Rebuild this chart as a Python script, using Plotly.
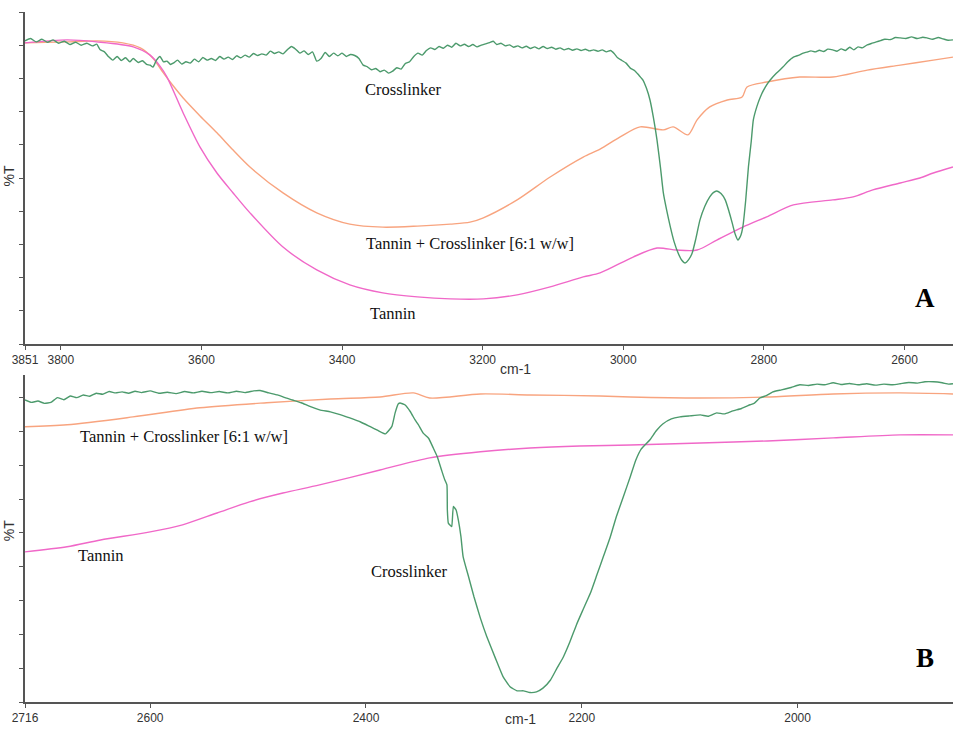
import plotly.graph_objects as go

# ---------------- Panel A: 3851-2531 cm-1 ----------------
a_cross_wn = [3851, 3843, 3835, 3827, 3819, 3811, 3803, 3795, 3787, 3779, 3771, 3763, 3755, 3749,
              3744, 3738, 3732, 3726, 3720, 3714, 3708, 3702, 3697, 3690, 3684, 3678, 3673, 3669,
              3664, 3659, 3654, 3649, 3644, 3640, 3634, 3628, 3622, 3616, 3610, 3604, 3598, 3592,
              3586, 3580, 3574, 3568, 3562, 3556, 3550, 3544, 3538, 3532, 3526, 3520, 3514, 3508,
              3502, 3496, 3490, 3484, 3478, 3472, 3466, 3460, 3454, 3448, 3442, 3436, 3430, 3424,
              3418, 3412, 3406, 3400, 3394, 3388, 3382, 3376, 3370, 3364, 3358, 3352, 3346, 3340,
              3334, 3328, 3322, 3316, 3310, 3304, 3298, 3292, 3286, 3280, 3274, 3268, 3262, 3256,
              3250, 3244, 3238, 3232, 3226, 3220, 3214, 3208, 3202, 3196, 3190, 3185, 3180, 3174,
              3168, 3162, 3156, 3150, 3144, 3138, 3132, 3126, 3120, 3114, 3108, 3102, 3096, 3090,
              3084, 3078, 3072, 3066, 3060, 3054, 3048, 3042, 3036, 3030, 3024, 3018, 3013, 3008,
              3002, 2996, 2990, 2984, 2978, 2972, 2967, 2962, 2957, 2952, 2947, 2943, 2938, 2933,
              2928, 2922, 2917, 2912, 2907, 2902, 2897, 2891, 2884, 2877, 2872, 2867, 2861, 2855,
              2850, 2845, 2841, 2837, 2833, 2830, 2826, 2822, 2818, 2815, 2810, 2805, 2798, 2791,
              2782, 2773, 2766, 2758, 2750, 2744, 2739, 2733, 2727, 2721, 2715, 2709, 2702, 2696,
              2690, 2684, 2678, 2672, 2666, 2660, 2653, 2646, 2640, 2634, 2628, 2620, 2613, 2606,
              2598, 2590, 2582, 2574, 2568, 2560, 2552, 2545, 2538, 2531]
a_cross_t = [91.3, 92.0, 91.0, 91.8, 90.9, 91.6, 90.6, 91.2, 90.2, 90.9, 90.0, 90.6, 89.8, 90.3,
             88.6, 88.0, 86.5, 85.5, 86.6, 85.4, 86.2, 85.0, 86.0, 84.8, 85.3, 84.2, 84.0, 83.4,
             85.5, 86.6, 85.0, 85.2, 84.2, 84.6, 85.5, 84.3, 85.0, 84.6, 85.8, 85.0, 86.3, 85.5,
             86.0, 85.4, 86.6, 85.8, 86.4, 85.7, 86.8, 86.2, 87.0, 86.4, 87.5, 86.9, 87.4, 87.0,
             88.2, 87.5, 88.0, 87.4, 88.6, 89.6, 88.8, 87.6, 88.3, 87.2, 88.0, 85.2, 86.0, 87.8,
             86.6, 87.6, 86.8, 87.6, 86.6, 87.2, 86.9, 86.0, 84.0, 83.5, 82.6, 83.0, 82.0, 82.5,
             81.6, 82.2, 83.2, 82.8, 84.5, 85.0, 86.6, 87.6, 87.0, 88.4, 89.2, 88.7, 89.6, 89.1,
             90.0, 89.4, 90.6, 89.8, 90.3, 89.6, 90.2, 89.5, 90.0, 90.4, 90.8, 91.2, 90.2, 90.6,
             89.8, 90.1, 89.4, 89.8, 89.2, 89.7, 89.0, 89.5, 88.9, 89.6, 89.0, 89.4, 88.8, 89.2,
             88.6, 89.0, 88.5, 88.9, 88.4, 88.8, 88.3, 88.6, 88.2, 88.6, 88.0, 88.4, 87.5, 86.2,
             85.4, 84.6, 83.1, 82.4, 81.0, 79.5, 77.0, 73.5, 68.0, 61.4, 53.0, 45.5, 40.0, 35.2,
             31.0, 27.4, 25.3, 24.4, 25.4, 27.4, 31.5, 37.3, 41.5, 44.3, 45.6, 46.1, 45.3, 43.4,
             40.2, 36.4, 33.2, 31.3, 32.6, 35.2, 43.0, 53.3, 61.0, 67.5, 71.5, 74.4, 77.4, 79.5,
             81.6, 83.4, 85.0, 86.4, 87.0, 87.6, 87.9, 88.3, 88.0, 88.5, 88.1, 88.8, 88.6, 88.2,
             88.9, 88.4, 89.4, 88.6, 89.5, 89.2, 90.1, 90.6, 91.0, 91.4, 91.8, 91.7, 92.3, 92.2,
             92.0, 92.5, 92.0, 92.4, 92.2, 91.8, 92.3, 91.9, 91.5, 91.6]

a_mix_wn = [3851, 3791, 3749, 3712, 3687, 3669, 3655, 3640, 3626, 3602, 3578, 3555, 3531, 3484,
            3436, 3389, 3342, 3293, 3246, 3218, 3199, 3151, 3104, 3057, 3033, 3005, 2976, 2943,
            2929, 2908, 2895, 2877, 2852, 2831, 2824, 2796, 2749, 2702, 2653, 2606, 2559, 2531]
a_mix_t = [90.7, 91.0, 91.3, 90.7, 89.2, 86.1, 81.9, 77.7, 74.1, 68.7, 63.6, 58.4, 53.3, 45.5,
           39.5, 36.1, 35.2, 35.5, 36.1, 36.7, 38.0, 43.4, 50.3, 56.3, 58.7, 62.3, 65.4, 64.5,
           65.4, 63.0, 67.5, 71.4, 73.5, 74.4, 77.4, 78.9, 80.4, 80.4, 82.5, 84.0, 85.5, 86.4]

a_tannin_wn = [3851, 3791, 3749, 3697, 3673, 3659, 3649, 3626, 3602, 3578, 3555, 3531, 3484, 3436,
               3389, 3342, 3293, 3246, 3199, 3151, 3104, 3057, 3033, 2986, 2952, 2924, 2895, 2867,
               2830, 2796, 2758, 2702, 2673, 2645, 2606, 2578, 2559, 2531]
a_tannin_t = [90.7, 91.6, 91.0, 89.5, 87.0, 83.7, 80.4, 69.6, 59.3, 51.5, 45.5, 39.5, 29.2, 22.3,
              17.8, 15.4, 14.2, 13.6, 13.6, 14.8, 17.2, 20.2, 21.4, 26.2, 28.9, 28.3, 28.3, 31.3,
              35.2, 38.3, 41.9, 43.4, 44.3, 46.4, 48.5, 50.0, 51.5, 53.3]

# ---------------- Panel B: 2716-1856 cm-1 ----------------
b_cross_wn = [2716, 2710, 2704, 2698, 2692, 2686, 2680, 2674, 2668, 2662, 2656, 2650, 2644, 2638,
              2632, 2626, 2620, 2614, 2608, 2600, 2592, 2584, 2576, 2568, 2560, 2552, 2544, 2536,
              2528, 2520, 2512, 2504, 2498, 2490, 2482, 2475, 2468, 2460, 2452, 2443, 2433, 2424,
              2415, 2405, 2396, 2389, 2382, 2376, 2373, 2370, 2368.4, 2364, 2359, 2354.5, 2351.5,
              2347, 2342, 2337.6, 2334, 2330, 2327, 2325, 2324.6, 2323.7, 2321.5, 2320.5, 2319,
              2316.5, 2314.4, 2312, 2310, 2305, 2300, 2294, 2288, 2280, 2273, 2266.5, 2260, 2254,
              2248, 2242, 2236, 2229, 2223, 2217, 2211, 2205, 2199, 2192, 2186, 2180, 2174, 2168,
              2161.5, 2155, 2150, 2145, 2137, 2131, 2125, 2117, 2109, 2100, 2090, 2083, 2075, 2068,
              2060, 2052, 2044, 2040, 2035, 2029, 2023, 2015, 2006, 1998, 1990, 1982, 1975, 1967,
              1960, 1952, 1944, 1936, 1928, 1920, 1912, 1905, 1897, 1889, 1882, 1874, 1866, 1860,
              1856]
b_cross_t = [89.3, 88.6, 89.0, 88.3, 88.6, 90.0, 89.4, 90.5, 90.0, 90.8, 90.4, 91.3, 91.0, 91.8,
             91.4, 91.7, 91.3, 91.9, 91.5, 92.0, 91.3, 91.6, 91.2, 91.8, 91.4, 91.9, 91.5, 91.8,
             91.4, 91.9, 91.5, 92.0, 92.1, 91.4, 90.8, 90.0, 89.3, 88.5, 87.4, 86.4, 85.8, 85.0,
             84.0, 82.8, 81.4, 80.3, 79.3, 81.5, 85.5, 88.2, 88.4, 87.9, 85.9, 83.4, 82.0,
             79.5, 78.0, 75.1, 72.6, 68.6, 65.7, 64.2, 56.8, 52.9, 52.1, 51.9, 57.8,
             56.8, 53.8, 48.9, 43.0, 37.1, 31.2, 24.8, 19.3, 12.9, 7.5, 4.5, 3.3, 3.3,
             2.8, 3.0, 4.1, 6.5, 10.0, 13.4, 17.8, 22.8, 27.2, 32.2, 37.6, 43.0, 48.4, 54.8,
             60.7, 66.7, 71.5, 74.8, 77.5, 80.2, 82.2, 83.7, 84.3, 84.6, 84.9, 84.5, 85.5, 85.2,
             86.1, 86.8, 87.9, 88.4, 89.9, 90.6, 91.7, 92.3, 93.0, 93.8, 93.6, 94.0, 93.8, 94.4,
             93.9, 94.2, 93.8, 94.1, 93.7, 94.0, 93.8, 94.1, 94.5, 94.3, 94.7, 94.7, 94.4, 94.0,
             94.1]

b_mix_wn = [2716, 2677, 2616, 2554, 2492, 2433, 2387, 2356, 2341, 2294, 2248, 2183, 2155, 2090,
            2028, 1967, 1905, 1856]
b_mix_t = [81.4, 82.0, 84.3, 87.0, 88.5, 89.6, 90.2, 91.4, 89.9, 91.1, 90.8, 90.5, 90.2, 89.9,
           90.2, 91.1, 91.4, 91.1]

b_tannin_wn = [2716, 2677, 2646, 2600, 2570, 2538, 2508, 2477, 2443, 2387, 2341, 2294, 2248, 2202,
               2155, 2090, 2028, 1967, 1905, 1856]
b_tannin_t = [44.4, 45.9, 47.9, 50.3, 52.4, 55.9, 59.2, 61.8, 64.2, 68.6, 72.2, 74.0, 75.1, 75.7,
              76.0, 76.6, 77.2, 78.1, 79.0, 79.0]

a_ticks = [3851, 3800, 3600, 3400, 3200, 3000, 2800, 2600]
b_ticks = [2716, 2600, 2400, 2200, 2000]

GREEN = "#4c9a6c"
ORANGE = "#f8a47f"
PINK = "#f068c8"

fig = go.Figure()


def add_line(x, y, color, xa, ya, smooth):
    fig.add_trace(go.Scatter(x=x, y=y, mode="lines", xaxis=xa, yaxis=ya,
                             line=dict(color=color, width=1.4, shape="spline",
                                       smoothing=smooth),
                             hoverinfo="skip", showlegend=False))


add_line(a_mix_wn, a_mix_t, ORANGE, "x", "y", 0.8)
add_line(a_tannin_wn, a_tannin_t, PINK, "x", "y", 0.8)
add_line(a_cross_wn, a_cross_t, GREEN, "x", "y", 0.5)
add_line(b_mix_wn, b_mix_t, ORANGE, "x2", "y2", 0.8)
add_line(b_tannin_wn, b_tannin_t, PINK, "x2", "y2", 0.8)
add_line(b_cross_wn, b_cross_t, GREEN, "x2", "y2", 0.4)

tick_font = dict(family="Liberation Sans, Arial, sans-serif", size=12, color="#333333")
axis_common = dict(showline=True, linecolor="#555555", linewidth=1.5, showgrid=False,
                   zeroline=False, ticks="outside", ticklen=4, tickcolor="#555555",
                   tickwidth=1, tickfont=tick_font, automargin=False, fixedrange=True)

left = 25 / 953
fig.update_layout(
    width=953, height=731,
    margin=dict(l=0, r=0, t=0, b=0),
    paper_bgcolor="white", plot_bgcolor="white",
    xaxis=dict(domain=[left, 1], range=[3851, 2531], anchor="y",
               tickvals=a_ticks, ticktext=[str(t) for t in a_ticks], **axis_common),
    yaxis=dict(domain=[(731 - 344) / 731, (731 - 12) / 731], range=[0, 100], anchor="x",
               tickvals=list(range(0, 101, 10)),
               ticktext=["%T" if v == 50 else "" for v in range(0, 101, 10)],
               tickangle=-90, **axis_common),
    xaxis2=dict(domain=[left, 1], range=[2716, 1856], anchor="y2",
                tickvals=b_ticks, ticktext=[str(t) for t in b_ticks], **axis_common),
    yaxis2=dict(domain=[(731 - 702) / 731, (731 - 375) / 731], range=[0, 96.7], anchor="x2",
                tickvals=list(range(0, 91, 10)),
                ticktext=["%T" if v == 50 else "" for v in range(0, 91, 10)],
                tickangle=-90, **axis_common),
)
fig.update_yaxes(tickfont=dict(family="Liberation Sans, Arial, sans-serif", size=14,
                               color="#333333"))

serif = "Liberation Serif, Times New Roman, serif"
labels = [
    ("Crosslinker", 3312, 76.8, "x", "y"),
    ("Tannin + Crosslinker [6:1 w/w]", 3218, 30.4, "x", "y"),
    ("Tannin", 3327, 9.3, "x", "y"),
    ("Tannin + Crosslinker [6:1 w/w]", 2569, 78.4, "x2", "y2"),
    ("Tannin", 2646, 43.2, "x2", "y2"),
    ("Crosslinker", 2360, 38.5, "x2", "y2"),
]
for text, x, y, xr, yr in labels:
    fig.add_annotation(text=text, x=x, y=y, xref=xr, yref=yr, showarrow=False,
                       font=dict(family=serif, size=16.5, color="#111111"))

for text, x, y, xr, yr in [("A", 2571, 13.9, "x", "y"), ("B", 1882, 13.0, "x2", "y2")]:
    fig.add_annotation(text="<b>%s</b>" % text, x=x, y=y, xref=xr, yref=yr, showarrow=False,
                       font=dict(family=serif, size=27, color="#000000"))

# wavenumber unit labels under each axis
for ypix, xpix in [(369, 515), (729, 520)]:
    fig.add_annotation(text="cm-1", x=xpix / 953, y=(731 - ypix) / 731, xref="paper",
                       yref="paper", showarrow=False,
                       font=dict(family="Liberation Sans, Arial, sans-serif", size=14,
                                 color="#333333"))

fig.write_html("out.html")
